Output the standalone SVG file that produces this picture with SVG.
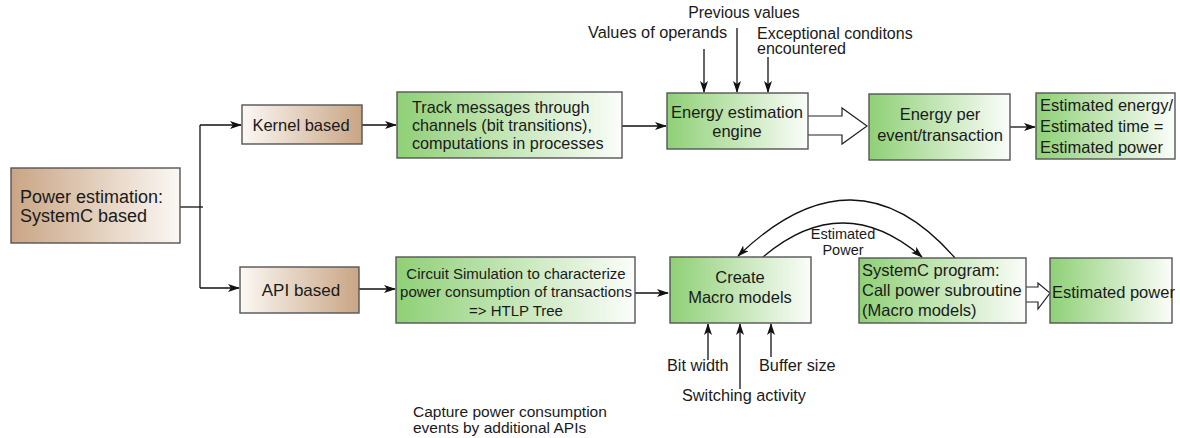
<svg xmlns="http://www.w3.org/2000/svg" width="1180" height="438" viewBox="0 0 1180 438">
  <defs>
    <linearGradient id="gTanL" x1="0" y1="0" x2="1" y2="0">
      <stop offset="0" stop-color="#c9a584"/>
      <stop offset="1" stop-color="#fbf8f4"/>
    </linearGradient>
    <linearGradient id="gTanR" x1="0" y1="0" x2="1" y2="0">
      <stop offset="0" stop-color="#fbf8f4"/>
      <stop offset="1" stop-color="#c9a584"/>
    </linearGradient>
    <linearGradient id="gGreen" x1="0" y1="0" x2="1" y2="0">
      <stop offset="0" stop-color="#8fd076"/>
      <stop offset="1" stop-color="#fbfdfa"/>
    </linearGradient>
    <marker id="arr" viewBox="0 0 12 8" refX="11" refY="4" markerWidth="12" markerHeight="8" markerUnits="userSpaceOnUse" orient="auto">
      <path d="M0,0 L12,4 L0,8 L3,4 Z" fill="#111"/>
    </marker>
  </defs>
  <style>
    .box { stroke: #555; stroke-width: 1.4; }
    .t { font-family: "Liberation Sans", Arial, sans-serif; fill: #1a1a1a; }
    .c { text-anchor: middle; }
    .ln { fill: none; stroke: #111; stroke-width: 1.3; }
    .hollow { fill: #fff; stroke: #222; stroke-width: 1.2; }
  </style>

  <rect width="1180" height="438" fill="#fff"/>

  <!-- connectors -->
  <g id="connectors">
    <polyline class="ln" points="180,207 203,207"/>
    <polyline class="ln" points="200,125 200,288"/>
    <line class="ln" x1="200" y1="125" x2="241" y2="125" marker-end="url(#arr)"/>
    <line class="ln" x1="200" y1="288" x2="239" y2="288" marker-end="url(#arr)"/>
    <line class="ln" x1="362" y1="125" x2="396" y2="125" marker-end="url(#arr)"/>
    <line class="ln" x1="622" y1="126" x2="666" y2="126" marker-end="url(#arr)"/>
    <line class="ln" x1="704" y1="49" x2="704" y2="92" marker-end="url(#arr)"/>
    <line class="ln" x1="737" y1="28" x2="737" y2="92" marker-end="url(#arr)"/>
    <line class="ln" x1="768" y1="57" x2="768" y2="92" marker-end="url(#arr)"/>
    <line class="ln" x1="1010" y1="127" x2="1035" y2="127" marker-end="url(#arr)"/>
    <line class="ln" x1="359" y1="289" x2="395" y2="289" marker-end="url(#arr)"/>
    <line class="ln" x1="635" y1="293" x2="668" y2="293" marker-end="url(#arr)"/>
    <line class="ln" x1="708" y1="360" x2="708" y2="324" marker-end="url(#arr)"/>
    <line class="ln" x1="740" y1="389" x2="740" y2="324" marker-end="url(#arr)"/>
    <line class="ln" x1="771" y1="357" x2="771" y2="324" marker-end="url(#arr)"/>
    <path class="ln" d="M955,258 Q855,143 738,256" marker-end="url(#arr)"/>
    <path class="ln" d="M763,257 Q843,189 922,257" marker-end="url(#arr)"/>
    <!-- hollow block arrows -->
    <path class="hollow" d="M808,116 L842,116 L842,108 L867,126 L842,144 L842,135 L808,135"/>
    <path class="hollow" d="M1026,287 L1038,287 L1038,283 L1050,293 L1038,309 L1038,302 L1026,302"/>
  </g>

  <g id="power-estimation">
    <rect class="box" x="11" y="168" width="169" height="75" fill="url(#gTanL)"/>
    <text class="t" x="20" y="203" font-size="18">Power estimation:</text>
    <text class="t" x="20" y="222" font-size="18">SystemC based</text>
  </g>

  <g id="kernel-based">
    <rect class="box" x="242" y="105" width="120" height="39" fill="url(#gTanR)"/>
    <text class="t c" x="301" y="131" font-size="16.5">Kernel based</text>
  </g>

  <g id="track-messages">
    <rect class="box" x="397" y="92" width="225" height="66" fill="url(#gGreen)"/>
    <text class="t" x="412" y="113" font-size="16.2">Track messages through</text>
    <text class="t" x="412" y="131" font-size="16.2">channels (bit transitions),</text>
    <text class="t" x="412" y="149" font-size="16.2">computations in processes</text>
  </g>

  <g id="energy-engine">
    <rect class="box" x="667" y="93" width="141" height="56" fill="url(#gGreen)"/>
    <text class="t c" x="737" y="118" font-size="16.5">Energy estimation</text>
    <text class="t c" x="737" y="137" font-size="16.5">engine</text>
  </g>

  <g id="engine-inputs">
    <text class="t c" x="744" y="18" font-size="15.8">Previous values</text>
    <text class="t" x="588" y="38" font-size="16.3">Values of operands</text>
    <text class="t" x="757" y="39" font-size="16">Exceptional conditons</text>
    <text class="t" x="757" y="54" font-size="16">encountered</text>
  </g>

  <g id="energy-per-event">
    <rect class="box" x="869" y="94" width="141" height="66" fill="url(#gGreen)"/>
    <text class="t c" x="940" y="120" font-size="16.5">Energy per</text>
    <text class="t c" x="940" y="141" font-size="16.5">event/transaction</text>
  </g>

  <g id="estimated-energy-time">
    <rect class="box" x="1036" y="93" width="139" height="66" fill="url(#gGreen)"/>
    <text class="t" x="1040" y="111" font-size="16.5">Estimated energy/</text>
    <text class="t" x="1040" y="132" font-size="16.5">Estimated time =</text>
    <text class="t" x="1040" y="153" font-size="16.5">Estimated power</text>
  </g>

  <g id="api-based">
    <rect class="box" x="240" y="267" width="119" height="46" fill="url(#gTanR)"/>
    <text class="t c" x="301" y="296" font-size="17">API based</text>
  </g>

  <g id="circuit-simulation">
    <rect class="box" x="396" y="257" width="239" height="66" fill="url(#gGreen)"/>
    <text class="t c" x="516" y="279" font-size="15">Circuit Simulation to characterize</text>
    <text class="t c" x="516" y="297" font-size="15">power consumption of transactions</text>
    <text class="t c" x="516" y="316" font-size="15">=&gt; HTLP Tree</text>
  </g>

  <g id="create-macro-models">
    <rect class="box" x="670" y="257" width="141" height="66" fill="url(#gGreen)"/>
    <text class="t c" x="740" y="283" font-size="16.5">Create</text>
    <text class="t c" x="740" y="303" font-size="16.5">Macro models</text>
  </g>

  <g id="macro-inputs">
    <text class="t" x="667" y="371" font-size="16.3">Bit width</text>
    <text class="t" x="759" y="371" font-size="16.3">Buffer size</text>
    <text class="t" x="682" y="401" font-size="16.3">Switching activity</text>
  </g>

  <g id="estimated-power-label">
    <text class="t c" x="843" y="239" font-size="14.5">Estimated</text>
    <text class="t c" x="843" y="255" font-size="14.5">Power</text>
  </g>

  <g id="systemc-program">
    <rect class="box" x="859" y="258" width="167" height="65" fill="url(#gGreen)"/>
    <text class="t" x="862" y="276" font-size="16.5">SystemC program:</text>
    <text class="t" x="862" y="296" font-size="16.5">Call power subroutine</text>
    <text class="t" x="862" y="316" font-size="16.5">(Macro models)</text>
  </g>

  <g id="estimated-power">
    <rect class="box" x="1050" y="258" width="122" height="65" fill="url(#gGreen)"/>
    <text class="t" x="1052" y="298" font-size="16.5">Estimated power</text>
  </g>

  <g id="capture-note">
    <text class="t" x="413" y="417" font-size="15.5">Capture power consumption</text>
    <text class="t" x="413" y="433" font-size="15.5">events by additional APIs</text>
  </g>
</svg>
